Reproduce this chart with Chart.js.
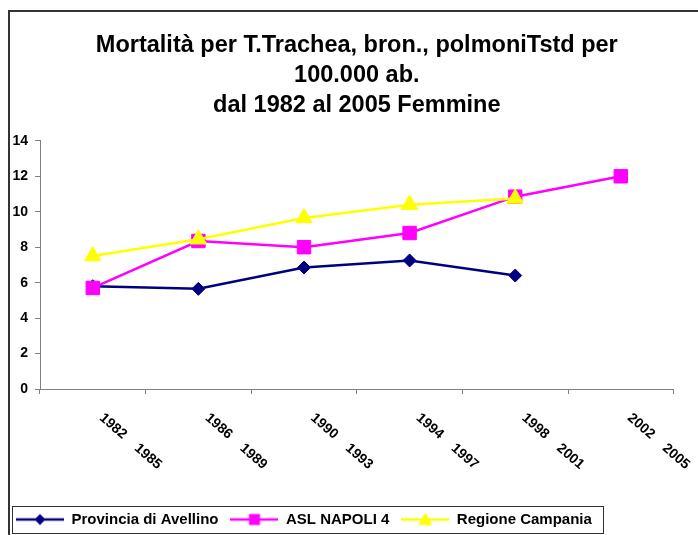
<!DOCTYPE html>
<html>
<head>
<meta charset="utf-8">
<script src="https://cdn.jsdelivr.net/npm/chart.js@4.4.0/dist/chart.umd.min.js"></script>
<style>
	html, body { margin: 0; padding: 0; background: #fff; }
	canvas { display: block; }
</style>
</head>
<body>
<canvas id="chart" width="698" height="535"></canvas>
<script>
// periods on the x axis
const periodStart = [1982, 1986, 1990, 1994, 1998, 2002];
const periodEnd = [1985, 1989, 1993, 1997, 2001, 2005];
const categories = periodStart.map((s, i) => s + ' ' + periodEnd[i]);

// rates per 100.000
const avellino = [5.8, 5.65, 6.85, 7.25, 6.4, null];
const napoli4 = [5.7, 8.35, 8.0, 8.8, 10.85, 12.0];
const campania = [7.5, 8.45, 9.65, 10.4, 10.75, null];

const yTicks = [0, 2, 4, 6, 8, 10, 12, 14];

const FONT = "'Liberation Sans', Arial, sans-serif";

// little line + marker picture for the legend
function legendIcon(color, style, size) {
	const c = document.createElement('canvas');
	c.width = 48;
	c.height = 16;
	const g = c.getContext('2d');
	g.strokeStyle = color;
	g.lineWidth = 2.5;
	g.beginPath();
	g.moveTo(0, 8);
	g.lineTo(48, 8);
	g.stroke();
	g.fillStyle = color;
	g.beginPath();
	if (style === 'rectRot') {
		g.moveTo(24, 8 - size);
		g.lineTo(24 + size, 8);
		g.lineTo(24, 8 + size);
		g.lineTo(24 - size, 8);
	} else if (style === 'rect') {
		g.rect(24 - size, 8 - size, size * 2, size * 2);
	} else {
		g.moveTo(24, 8 - size);
		g.lineTo(24 + size, 8 + size * 0.8);
		g.lineTo(24 - size, 8 + size * 0.8);
	}
	g.closePath();
	g.fill();
	return c;
}

const icons = [
	legendIcon('#000080', 'rectRot', 5.5),
	legendIcon('#FF00FF', 'rect', 5.5),
	legendIcon('#FFFF00', 'triangle', 7)
];

// white background and the outer chart frame
const framePlugin = {
	id: 'frame',
	beforeDraw(chart) {
		const ctx = chart.ctx;
		ctx.save();
		ctx.fillStyle = '#fff';
		ctx.fillRect(0, 0, chart.width, chart.height);
		ctx.strokeStyle = '#333';
		ctx.lineWidth = 2;
		ctx.strokeRect(9, 11, chart.width + 20, chart.height + 20);
		ctx.restore();
	}
};

// border round the legend
const legendBoxPlugin = {
	id: 'legendBox',
	afterLayout(chart) {
		chart.legend.top += 2;
		chart.legend.bottom += 2;
	},
	afterDraw(chart) {
		const lg = chart.legend;
		const boxes = lg.legendHitBoxes;
		if (!boxes || !boxes.length) return;
		const last = boxes[boxes.length - 1];
		const cy = boxes[0].top + boxes[0].height / 2;
		const ctx = chart.ctx;
		const left = Math.round(lg.left + 8) + 0.5;
		const right = Math.round(last.left + last.width + 11) + 0.5;
		const top = Math.round(cy - 13.5) + 0.5;
		ctx.save();
		ctx.strokeStyle = '#333';
		ctx.lineWidth = 1;
		ctx.strokeRect(left, top, right - left, 27);
		ctx.restore();
	}
};

// slanted period labels under the x axis
const xLabelPlugin = {
	id: 'xLabels',
	afterDraw(chart) {
		const xs = chart.scales.x;
		const ctx = chart.ctx;
		const ang = 41 * Math.PI / 180;
		ctx.save();
		ctx.font = 'bold 14px ' + FONT;
		ctx.fillStyle = '#000';
		ctx.textAlign = 'left';
		ctx.textBaseline = 'alphabetic';
		categories.forEach((c, i) => {
			const first = String(periodStart[i]);
			ctx.save();
			ctx.translate(xs.getPixelForValue(i) + 6, xs.top + 30);
			ctx.rotate(ang);
			ctx.fillText(first, 0, 0);
			ctx.fillText(String(periodEnd[i]), ctx.measureText(first).width + 15, 0);
			ctx.restore();
		});
		ctx.restore();
	}
};

new Chart(document.getElementById('chart'), {
	type: 'line',
	data: {
		labels: categories,
		datasets: [{
			label: 'Provincia di Avellino',
			data: avellino,
			borderColor: '#000080',
			backgroundColor: '#000080',
			borderWidth: 2.5,
			pointStyle: 'rectRot',
			pointRadius: 6.5,
			pointBorderWidth: 1,
			order: 3
		}, {
			label: 'ASL NAPOLI 4',
			data: napoli4,
			borderColor: '#FF00FF',
			backgroundColor: '#FF00FF',
			borderWidth: 2.5,
			pointStyle: 'rect',
			pointRadius: 9.5,
			pointBorderWidth: 1,
			order: 2
		}, {
			label: 'Regione Campania',
			data: campania,
			borderColor: '#FFFF00',
			backgroundColor: '#FFFF00',
			borderWidth: 2.5,
			pointStyle: 'triangle',
			pointRadius: 9.5,
			pointBorderWidth: 1,
			order: 1
		}]
	},
	options: {
		responsive: false,
		animation: false,
		events: [],
		layout: { padding: { left: 4, right: 24.4, top: 0, bottom: 0 } },
		plugins: {
			title: {
				display: true,
				fullSize: false,
				text: ['Mortalità per T.Trachea, bron., polmoniTstd per', '100.000 ab.', 'dal 1982 al 2005 Femmine'],
				color: '#000',
				font: { family: FONT, size: 23.5, weight: 'bold', lineHeight: 1.26 },
				padding: { top: 31, bottom: 21 }
			},
			legend: {
				position: 'bottom',
				align: 'start',
				labels: {
					usePointStyle: true,
					pointStyleWidth: 48,
					padding: 12,
					color: '#000',
					font: { family: FONT, size: 15, weight: 'bold' },
					generateLabels: chart => chart.data.datasets.map((ds, i) => ({
						text: ds.label,
						pointStyle: icons[i],
						fillStyle: ds.borderColor,
						strokeStyle: ds.borderColor,
						lineWidth: 0,
						hidden: false,
						datasetIndex: i,
						fontColor: '#000'
					}))
				}
			},
			tooltip: { enabled: false }
		},
		scales: {
			x: {
				offset: true,
				grid: { offset: true, drawOnChartArea: false, drawTicks: true, tickLength: 5, color: '#808080' },
				border: { color: '#808080', width: 1 },
				ticks: { display: false },
				afterFit: s => { s.height = 109; }
			},
			y: {
				min: 0,
				max: 14,
				afterBuildTicks: s => { s.ticks = yTicks.map(v => ({ value: v })); },
				ticks: { padding: 7, color: '#000', font: { family: FONT, size: 14, weight: 'bold' } },
				grid: { drawOnChartArea: false, tickLength: 5, color: '#808080' },
				border: { color: '#808080', width: 1 },
				afterFit: s => { s.width = 36; }
			}
		}
	},
	plugins: [framePlugin, legendBoxPlugin, xLabelPlugin]
});
</script>
</body>
</html>
